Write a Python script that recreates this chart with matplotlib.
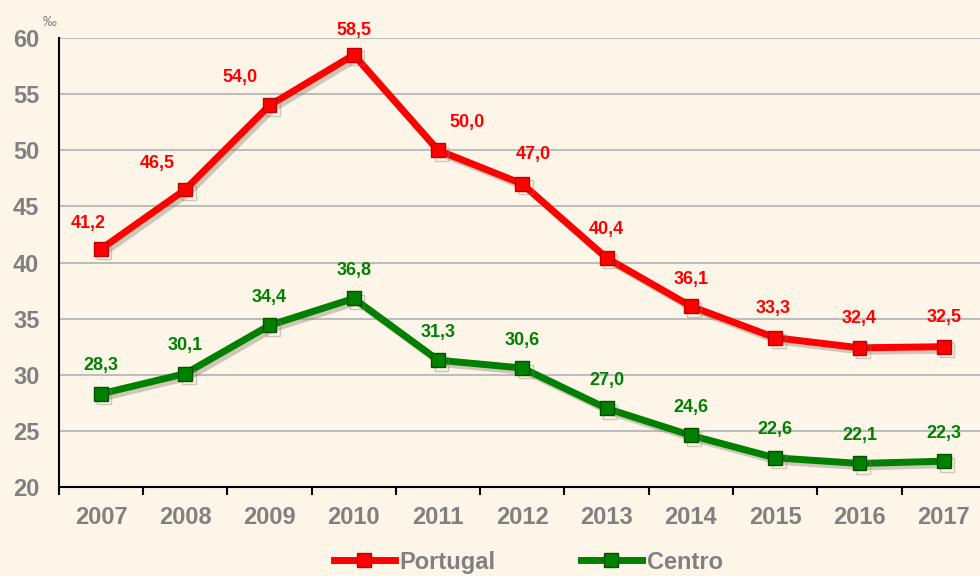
import matplotlib.pyplot as plt
import matplotlib.patheffects as pe
from matplotlib.lines import Line2D

years = ['2007', '2008', '2009', '2010', '2011', '2012', '2013', '2014', '2015', '2016', '2017']
portugal = [41.2, 46.5, 54.0, 58.5, 50.0, 47.0, 40.4, 36.1, 33.3, 32.4, 32.5]
centro = [28.3, 30.1, 34.4, 36.8, 31.3, 30.6, 27.0, 24.6, 22.6, 22.1, 22.3]

# label offsets in pixels from each point
pt_off = [(-13, 26), (-28, 26), (-30, 28), (0, 24), (29, 28), (11, 29),
          (0, 29), (0, 27), (-2, 29), (0, 29), (0, 29)]
ce_off = [(0, 28)] * len(centro)

bg = '#fdf6e8'
grey = '#808080'
red = '#ff0000'
green = '#008000'
plt.rcParams['font.family'] = ['Liberation Sans', 'DejaVu Sans']

fig = plt.figure(figsize=(9.8, 5.76), dpi=100, facecolor=bg)
ax = fig.add_axes([0.060, 0.1545, 0.946, 0.7795], facecolor=bg)

x = list(range(len(years)))
shadow = [pe.SimpleLineShadow(offset=(2.5, -2.5), shadow_color='#8a7f70', alpha=0.4), pe.Normal()]

ax.plot(x, portugal, color=red, lw=5, marker='s', ms=10, mfc=red, mec='#c00000', mew=1,
        path_effects=shadow, zorder=4, solid_capstyle='round')
ax.plot(x, centro, color=green, lw=5, marker='s', ms=10, mfc=green, mec='#005000', mew=1,
        path_effects=shadow, zorder=4, solid_capstyle='round')

for i, v in enumerate(portugal):
    ax.annotate(f'{v:.1f}'.replace('.', ','), (i, v), xytext=pt_off[i], textcoords='offset pixels',
                color=red, fontsize=13, fontweight='bold', ha='center', va='center', zorder=5)
for i, v in enumerate(centro):
    ax.annotate(f'{v:.1f}'.replace('.', ','), (i, v), xytext=ce_off[i], textcoords='offset pixels',
                color=green, fontsize=13, fontweight='bold', ha='center', va='center', zorder=5)

ax.set_xlim(-0.5, len(years) - 0.5)
ax.set_ylim(20, 60)
ax.set_yticks(range(20, 61, 5))
ax.set_xticks([i - 0.5 for i in range(len(years) + 1)], minor=False)
ax.set_xticklabels([])
ax.set_xticks(x, minor=True)
ax.set_xticklabels(years, minor=True)
ax.tick_params(axis='x', which='major', length=6, width=1.5, color='black')
ax.tick_params(axis='x', which='minor', length=0, pad=14, labelsize=17, labelcolor=grey)
ax.tick_params(axis='y', length=0, pad=14, labelsize=17, labelcolor=grey)
for lab in ax.get_xticklabels(minor=True) + ax.get_yticklabels():
    lab.set_fontweight('bold')

ax.grid(axis='y', color='#bdbdbd', lw=1.5)
ax.set_axisbelow(True)
for s in ['top', 'right']:
    ax.spines[s].set_visible(False)
ax.spines['left'].set_linewidth(1.5)
ax.spines['bottom'].set_linewidth(1.5)

fig.text(0.044, 0.962, '‰', color=grey, fontsize=10, ha='left', va='center')

handles = [Line2D([], [], color=red, lw=5, marker='s', ms=10, mec='#c00000'),
           Line2D([], [], color=green, lw=5, marker='s', ms=10, mec='#005000')]
fig.legend(handles, ['Portugal', 'Centro'], loc='center', bbox_to_anchor=(0.539, 0.024),
           ncol=2, frameon=False, handlelength=2.6, handletextpad=0.2, columnspacing=3.6,
           prop={'size': 17, 'weight': 'bold'}, labelcolor=grey)

fig.savefig('out.png', dpi=100, facecolor=bg)
